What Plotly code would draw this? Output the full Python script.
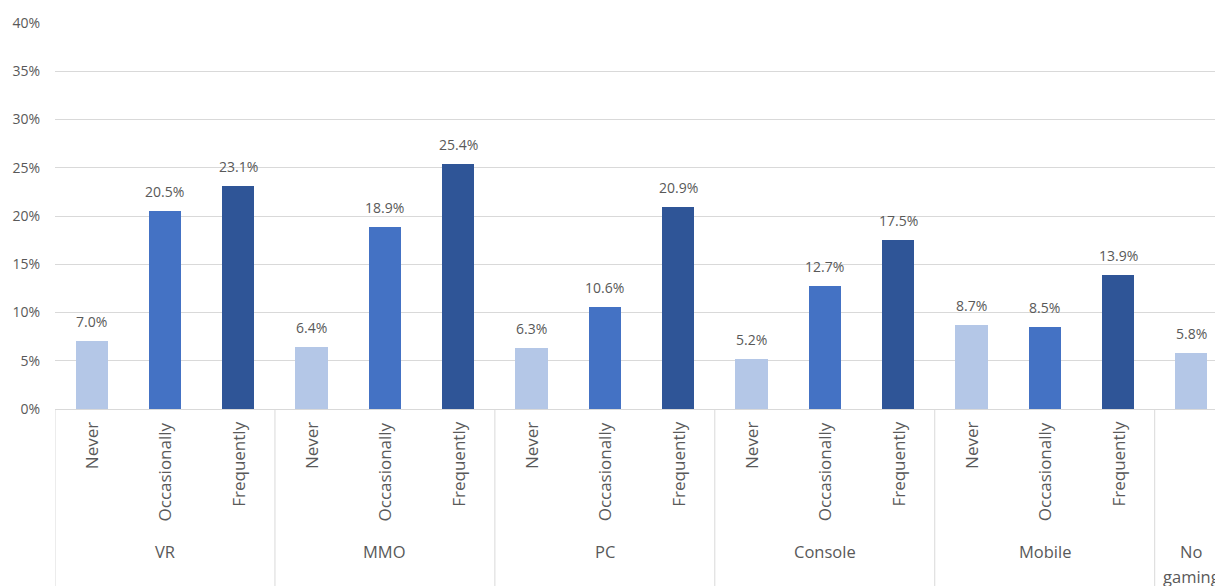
import plotly.graph_objects as go

groups = ["VR", "MMO", "PC", "Console", "Mobile", "No gaming"]
sub_labels = ["Never", "Occasionally", "Frequently"]
values = {
    "VR": [7.0, 20.5, 23.1],
    "MMO": [6.4, 18.9, 25.4],
    "PC": [6.3, 10.6, 20.9],
    "Console": [5.2, 12.7, 17.5],
    "Mobile": [8.7, 8.5, 13.9],
    "No gaming": [5.8],
}
colors = ["#B4C7E7", "#4472C4", "#2F5597"]
y_ticks = [0, 5, 10, 15, 20, 25, 30, 35, 40]

FONT = "Open Sans"
GREY = "#595959"
LINE = "#D9D9D9"

fig = go.Figure()

xs, ys, cs, subs = [], [], [], []
group_centers = []
boundaries = [-0.5]
pos = 0
for g in groups:
    vals = values[g]
    start = pos
    for i, v in enumerate(vals):
        xs.append(pos)
        ys.append(v / 100)
        cs.append(colors[i])
        subs.append(sub_labels[i] if len(vals) > 1 else "")
        pos += 1
    group_centers.append((start + pos - 1) / 2)
    boundaries.append(pos - 0.5)

fig.add_trace(go.Bar(x=xs, y=ys, marker=dict(color=cs, line=dict(width=0)),
                     width=0.44, showlegend=False, hoverinfo="skip"))

annotations = []
for x, y in zip(xs, ys):
    annotations.append(dict(x=x, y=y, xref="x", yref="y", text=f"{y*100:.1f}%",
                            showarrow=False, yanchor="bottom", yshift=8,
                            font=dict(family=FONT, size=14, color=GREY)))
for x, s in zip(xs, subs):
    if s:
        annotations.append(dict(x=x, y=0, xref="x", yref="paper", text=s,
                                showarrow=False, textangle=-90, yanchor="top",
                                xanchor="center", yshift=-11,
                                font=dict(family=FONT, size=17, color=GREY)))
for g, c in zip(groups, group_centers):
    if g == "No gaming":
        annotations.append(dict(x=c, y=0, xref="x", yref="paper", text="No",
                                showarrow=False, yanchor="middle", yshift=-142,
                                font=dict(family=FONT, size=16.5, color=GREY)))
        annotations.append(dict(x=c, y=0, xref="x", yref="paper", text="gaming",
                                showarrow=False, yanchor="middle", yshift=-167,
                                font=dict(family=FONT, size=16.5, color=GREY)))
    else:
        annotations.append(dict(x=c, y=0, xref="x", yref="paper", text=g,
                                showarrow=False, yanchor="middle", yshift=-142,
                                font=dict(family=FONT, size=16.5, color=GREY)))

shapes = []
for b in boundaries[:-1]:
    shapes.append(dict(type="line", xref="x", yref="paper", x0=b, x1=b,
                       y0=0, y1=-177 / 386, line=dict(color=LINE, width=1)))

fig.update_layout(
    width=1215, height=586,
    margin=dict(l=55, r=0, t=23, b=177),
    plot_bgcolor="white", paper_bgcolor="white",
    annotations=annotations, shapes=shapes,
    xaxis=dict(range=[-0.5, -0.5 + (1215 - 55) / (1173 / 16)], showticklabels=False,
               showgrid=False, zeroline=False, showline=True, linecolor=LINE,
               linewidth=1, ticks=""),
    yaxis=dict(range=[0, 0.4], tickvals=[t / 100 for t in y_ticks],
               ticktext=[f"{t}%" for t in y_ticks], showgrid=True, gridcolor=LINE,
               gridwidth=1, zeroline=False, showline=False, ticks="outside",
               ticklen=11, tickcolor="rgba(0,0,0,0)",
               tickfont=dict(family=FONT, size=14, color=GREY)),
    bargap=0,
)

fig.write_html("out.html")
